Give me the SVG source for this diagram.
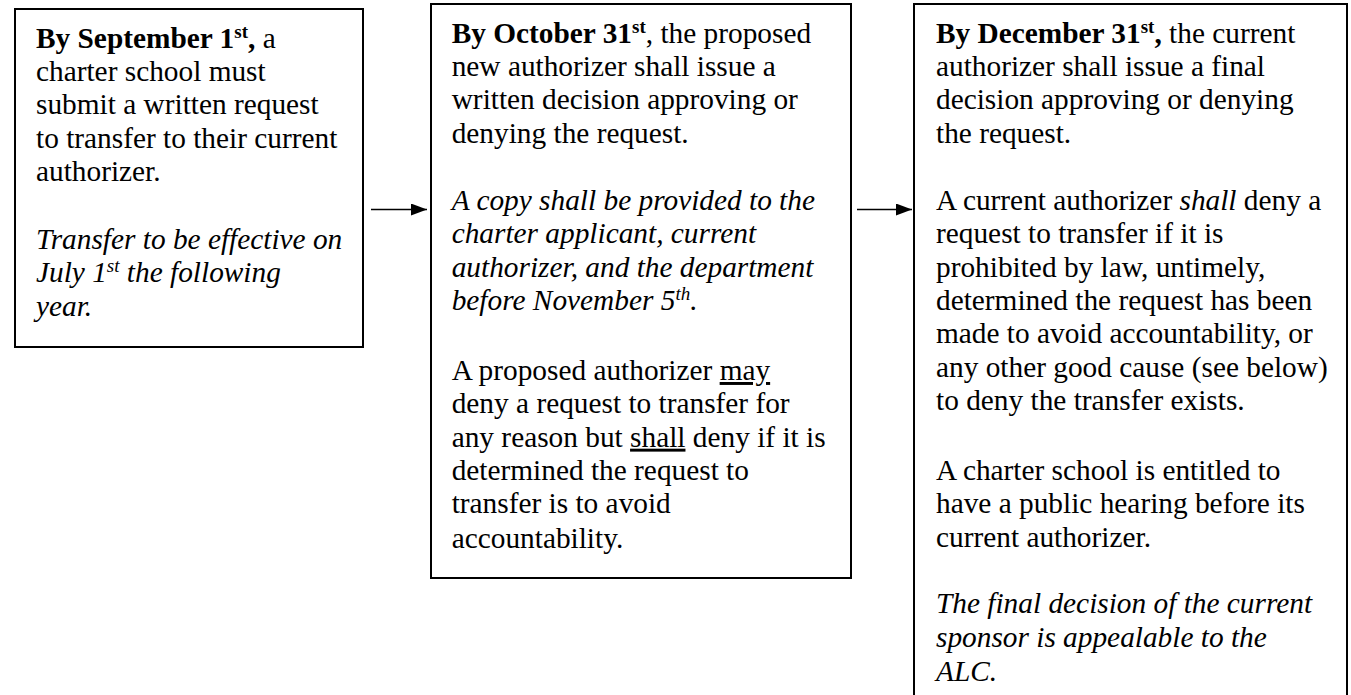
<svg xmlns="http://www.w3.org/2000/svg" width="1351" height="695" viewBox="0 0 1351 695">
<style>
.box{fill:#fff;stroke:#000;stroke-width:2}
.t{font-family:"Liberation Serif","Times New Roman",serif;font-size:29.33px;fill:#000}
.b{font-weight:bold}
.i{font-style:italic}
.sup{font-size:19px}
.u{text-decoration:underline}
.conn{stroke:#000;stroke-width:1.5;fill:none}
</style>
<defs>
<marker id="ah" markerWidth="16" markerHeight="12" refX="16" refY="6" orient="auto" markerUnits="userSpaceOnUse">
<path d="M0,0 L16,6 L0,12 Z" fill="#000"/>
</marker>
</defs>
<rect width="1351" height="695" fill="#fff"/>
<g id="connectors">
<line class="conn" x1="371" y1="209.5" x2="427" y2="209.5" marker-end="url(#ah)"/>
<line class="conn" x1="857" y1="209.5" x2="912" y2="209.5" marker-end="url(#ah)"/>
</g>
<g id="node1">
<rect class="box" x="15" y="9" width="348" height="338"/>
<text class="t" x="36" y="47.7"><tspan class="b">By September 1</tspan><tspan class="b sup" dy="-10">st</tspan><tspan class="b" dy="10">,</tspan> a</text>
<text class="t" x="36" y="81">charter school must</text>
<text class="t" x="36" y="114.3">submit a written request</text>
<text class="t" x="36" y="147.7">to transfer to their current</text>
<text class="t" x="36" y="181">authorizer.</text>
<text class="t i" x="36" y="248.5">Transfer to be effective on</text>
<text class="t i" x="36" y="282">July 1<tspan class="sup" dy="-10">st</tspan><tspan dy="10"> the following</tspan></text>
<text class="t i" x="36" y="316">year.</text>
</g>
<g id="node2">
<rect class="box" x="431" y="4" width="420" height="574"/>
<text class="t" x="451.7" y="42.7"><tspan class="b">By October 31</tspan><tspan class="b sup" dy="-10">st</tspan><tspan dy="10">, the proposed</tspan></text>
<text class="t" x="451.7" y="76">new authorizer shall issue a</text>
<text class="t" x="451.7" y="109.3">written decision approving or</text>
<text class="t" x="451.7" y="142.7">denying the request.</text>
<text class="t i" x="451.7" y="210">A copy shall be provided to the</text>
<text class="t i" x="451.7" y="243.3">charter applicant, current</text>
<text class="t i" x="451.7" y="276.7">authorizer, and the department</text>
<text class="t i" x="451.7" y="310">before November 5<tspan class="sup" dy="-10">th</tspan><tspan dy="10">.</tspan></text>
<text class="t" x="451.7" y="380">A proposed authorizer <tspan class="u">may</tspan></text>
<text class="t" x="451.7" y="413.3">deny a request to transfer for</text>
<text class="t" x="451.7" y="446.7">any reason but <tspan class="u">shall</tspan> deny if it is</text>
<text class="t" x="451.7" y="480">determined the request to</text>
<text class="t" x="451.7" y="513.3">transfer is to avoid</text>
<text class="t" x="451.7" y="548">accountability.</text>
</g>
<g id="node3">
<rect class="box" x="914" y="4" width="433" height="720"/>
<text class="t" x="936" y="42.7"><tspan class="b">By December 31</tspan><tspan class="b sup" dy="-10">st</tspan><tspan class="b" dy="10">,</tspan> the current</text>
<text class="t" x="936" y="76">authorizer shall issue a final</text>
<text class="t" x="936" y="109.3">decision approving or denying</text>
<text class="t" x="936" y="142.7">the request.</text>
<text class="t" x="936" y="210">A current authorizer <tspan class="i">shall</tspan> deny a</text>
<text class="t" x="936" y="243.3">request to transfer if it is</text>
<text class="t" x="936" y="276.7">prohibited by law, untimely,</text>
<text class="t" x="936" y="310">determined the request has been</text>
<text class="t" x="936" y="343.3">made to avoid accountability, or</text>
<text class="t" x="936" y="376.7">any other good cause (see below)</text>
<text class="t" x="936" y="410">to deny the transfer exists.</text>
<text class="t" x="936" y="480">A charter school is entitled to</text>
<text class="t" x="936" y="513.3">have a public hearing before its</text>
<text class="t" x="936" y="546.7">current authorizer.</text>
<text class="t i" x="936" y="613">The final decision of the current</text>
<text class="t i" x="936" y="646.7">sponsor is appealable to the</text>
<text class="t i" x="936" y="681">ALC.</text>
</g>
</svg>
